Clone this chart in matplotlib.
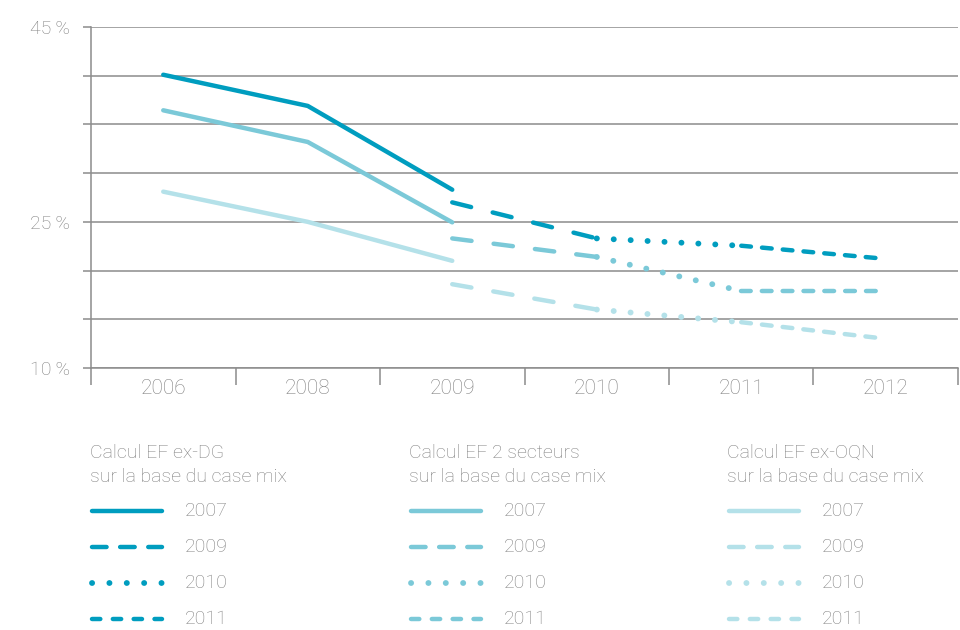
import numpy as np
import matplotlib
matplotlib.use("Agg")
import matplotlib.pyplot as plt
from matplotlib.lines import Line2D

nan = np.nan

years = ["2006", "2008", "2009", "2010", "2011", "2012"]
vintages = ["2007", "2009", "2010", "2011"]

# Calcul EF ex-DG
dg_2007 = [40.1, 36.9, 28.3, nan, nan, nan]
dg_2009 = [nan, nan, 27.0, 23.3, nan, nan]
dg_2010 = [nan, nan, nan, 23.3, 22.55, nan]
dg_2011 = [nan, nan, nan, nan, 22.55, 21.2]

# Calcul EF 2 secteurs
s2_2007 = [36.45, 33.2, 24.95, nan, nan, nan]
s2_2009 = [nan, nan, 23.3, 21.4, nan, nan]
s2_2010 = [nan, nan, nan, 21.4, 17.9, nan]
s2_2011 = [nan, nan, nan, nan, 17.9, 17.9]

# Calcul EF ex-OQN
oqn_2007 = [28.1, 25.0, 21.0, nan, nan, nan]
oqn_2009 = [nan, nan, 18.6, 16.0, nan, nan]
oqn_2010 = [nan, nan, nan, 16.0, 14.7, nan]
oqn_2011 = [nan, nan, nan, nan, 14.7, 13.0]

group_titles = ["Calcul EF ex-DG\nsur la base du case mix",
                "Calcul EF 2 secteurs\nsur la base du case mix",
                "Calcul EF ex-OQN\nsur la base du case mix"]
group_colors = ["#009dbf", "#7bc9d8", "#b4e1e9"]
group_series = [[dg_2007, dg_2009, dg_2010, dg_2011],
                [s2_2007, s2_2009, s2_2010, s2_2011],
                [oqn_2007, oqn_2009, oqn_2010, oqn_2011]]

yticks = [10, 15, 20, 25, 30, 35, 40, 45]
ytick_labels = ["10\u2009%", "", "", "25\u2009%", "", "", "", "45\u2009%"]

plt.rcParams["lines.scale_dashes"] = False
plt.rcParams["font.family"] = ["Roboto", "DejaVu Sans"]
plt.rcParams["font.weight"] = "light"

grey = "#8c8c8c"
text_grey = "#808080"

# line styles (dash pattern in points)
plot_dashes = {"2007": None, "2009": (14, 16), "2010": (0.1, 12.1), "2011": (7, 8)}
legend_dashes = {"2007": None, "2009": (10.5, 9.75), "2010": (0.1, 12.4), "2011": (6, 9)}
widths = {"2007": 3.2, "2009": 3.2, "2010": 4.2, "2011": 3.2}

fig = plt.figure(figsize=(9.6, 6.3), dpi=100)
ax = fig.add_axes([91 / 960, 1 - 368 / 630, (958 - 91) / 960, (368 - 27) / 630])

x = np.arange(len(years))
for color, series in zip(group_colors, group_series):
    for v, vals in zip(vintages, series):
        ln, = ax.plot(x, vals, color=color, lw=widths[v],
                      solid_capstyle="round", dash_capstyle="round", zorder=3)
        if plot_dashes[v] is not None:
            ln.set_dashes(plot_dashes[v])

ax.set_xlim(-0.5, 5.5)
ax.set_ylim(10, 45)
ax.set_yticks(yticks)
ax.set_yticklabels(ytick_labels)
ax.yaxis.grid(True, color=grey, lw=1.1)
ax.tick_params(axis="y", length=6, width=1.1, color=grey, labelcolor=text_grey,
               labelsize=14, pad=9)

ax.set_xticks(np.arange(-0.5, 6, 1))
ax.set_xticklabels([])
ax.set_xticks(x, minor=True)
ax.set_xticklabels(years, minor=True)
ax.tick_params(axis="x", which="major", length=12, width=1.1, color=grey)
ax.tick_params(axis="x", which="minor", length=0, labelcolor=text_grey,
               labelsize=15, pad=8)

for s in ["top", "right"]:
    ax.spines[s].set_visible(False)
for s in ["left", "bottom"]:
    ax.spines[s].set_color(grey)
    ax.spines[s].set_linewidth(1.1)

# legend, three columns
col_x = [90, 409, 727]
row_y = [511, 547, 583, 619]
for cx, title, color in zip(col_x, group_titles, group_colors):
    fig.text(cx / 960, 1 - 465 / 630, title, color=text_grey, fontsize=14,
             ha="left", va="center", linespacing=1.45)
    for v, ry in zip(vintages, row_y):
        ln = Line2D([(cx + 2) / 960, (cx + 72) / 960], [1 - ry / 630] * 2,
                    transform=fig.transFigure, color=color, lw=widths[v],
                    solid_capstyle="round", dash_capstyle="round")
        if legend_dashes[v] is not None:
            ln.set_dashes(legend_dashes[v])
        fig.add_artist(ln)
        fig.text((cx + 95) / 960, 1 - ry / 630, v, color=text_grey, fontsize=14,
                 ha="left", va="center")

fig.savefig("out.png", dpi=100)
